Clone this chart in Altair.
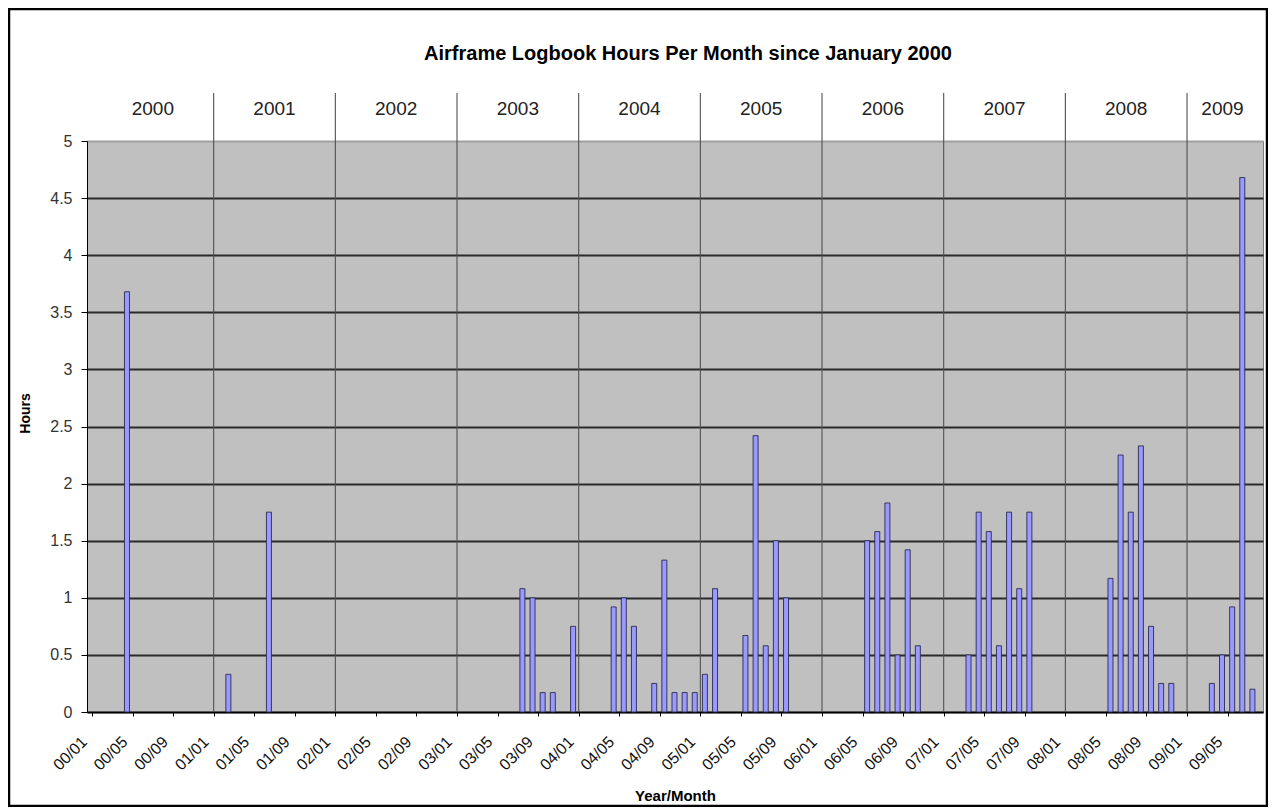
import json
import altair as alt
import pandas as pd

# ---------------- data ----------------
years = ["2000", "2001", "2002", "2003", "2004", "2005", "2006", "2007", "2008", "2009"]
last_month = "09/07"
all_months = [f"{y[2:]}/{m:02d}" for y in years for m in range(1, 13)]
month_labels = all_months[: all_months.index(last_month) + 1]

tick_labels = ["00/01", "00/05", "00/09", "01/01", "01/05", "01/09", "02/01", "02/05",
               "02/09", "03/01", "03/05", "03/09", "04/01", "04/05", "04/09", "05/01",
               "05/05", "05/09", "06/01", "06/05", "06/09", "07/01", "07/05", "07/09",
               "08/01", "08/05", "08/09", "09/01", "09/05"]

flight_months = ["00/04", "01/02", "01/06",
                 "03/07", "03/08", "03/09", "03/10", "03/12",
                 "04/04", "04/05", "04/06", "04/08", "04/09", "04/10", "04/11", "04/12",
                 "05/01", "05/02", "05/05", "05/06", "05/07", "05/08", "05/09",
                 "06/05", "06/06", "06/07", "06/08", "06/09", "06/10",
                 "07/03", "07/04", "07/05", "07/06", "07/07", "07/08", "07/09",
                 "08/05", "08/06", "08/07", "08/08", "08/09", "08/10", "08/11",
                 "09/03", "09/04", "09/05", "09/06", "09/07"]
hours = [3.68, 0.33, 1.75,
         1.08, 1.0, 0.17, 0.17, 0.75,
         0.92, 1.0, 0.75, 0.25, 1.33, 0.17, 0.17, 0.17,
         0.33, 1.08, 0.67, 2.42, 0.58, 1.5, 1.0,
         1.5, 1.58, 1.83, 0.5, 1.42, 0.58,
         0.5, 1.75, 1.58, 0.58, 1.75, 1.08, 1.75,
         1.17, 2.25, 1.75, 2.33, 0.75, 0.25, 0.25,
         0.25, 0.5, 0.92, 4.68, 0.2]

title_text = "Airframe Logbook Hours Per Month since January 2000"

# ---------------- tables ----------------
N = len(month_labels)
bars_df = pd.DataFrame({
    "month": flight_months,
    "x": [month_labels.index(m) + 0.45 for m in flight_months],
    "y": hours,
})
year_start = [month_labels.index(y[2:] + "/01") for y in years]
rules_df = pd.DataFrame({"x": year_start[1:]})
ylab_df = pd.DataFrame({
    "year": years,
    "x": [s + min(12, N - s) / 2 for s in year_start],
})
title_df = pd.DataFrame({"t": [title_text]})

W, H = 1176, 571
FONT = "Liberation Sans"

x_scale = alt.Scale(domain=[0, N], nice=False, zero=False)
y_scale = alt.Scale(domain=[0, 5], nice=False, zero=True)

label_expr = ("(datum.value % 4 == 0 && datum.value < {n}) ? {arr}[datum.value / 4] : ''"
              .format(n=N, arr=json.dumps(tick_labels)))

x_axis = alt.Axis(
    values=list(range(0, N + 1)),
    tickSize=4, tickColor="black", tickWidth=1,
    domainColor="black", domainWidth=1.5,
    labelExpr=label_expr, labelAngle=-45, labelAlign="right", labelBaseline="middle",
    labelOffset=-8, labelPadding=23, labelFontSize=16, labelColor="#111111",
    labelOverlap=False, labelBound=False, labelFlush=False,
    grid=False,
    title="Year/Month", titleFontSize=15, titleFontWeight="bold", titleColor="black",
    titleX=W / 2, titleY=76, titleBaseline="top",
)

y_axis = alt.Axis(
    values=[0, 0.5, 1, 1.5, 2, 2.5, 3, 3.5, 4, 4.5, 5],
    format="~g",
    tickSize=6, tickColor="black", domainColor="black", domainWidth=1,
    labelFontSize=16, labelPadding=9, labelColor="#333333",
    grid=True,
    gridColor={"condition": {"test": "datum.value >= 5", "value": "#a0a0a0"}, "value": "#2a2a2a"},
    gridWidth=2,
    title="Hours", titleFontSize=14, titleFontWeight="bold", titleColor="black",
    titleX=-55, titleY=272, titleAngle=270,
)

rules = alt.Chart(rules_df).mark_rule(color="#505050", strokeWidth=1.1).encode(
    x=alt.X("x:Q", scale=x_scale),
    y=alt.value(-48),
    y2=alt.value(H),
)

bars = alt.Chart(bars_df).mark_bar(
    width=5, fill="#9999FF", stroke="#2a2a50", strokeWidth=0.9
).encode(
    x=alt.X("x:Q", scale=x_scale, axis=x_axis),
    y=alt.Y("y:Q", scale=y_scale, axis=y_axis),
)

year_text = alt.Chart(ylab_df).mark_text(
    fontSize=19, font=FONT, color="#222222", align="center", baseline="middle"
).encode(
    x=alt.X("x:Q", scale=x_scale),
    y=alt.value(-32),
    text="year:N",
)

title = alt.Chart(title_df).mark_text(
    fontSize=20, font=FONT, fontWeight="bold", color="black", align="center", baseline="middle"
).encode(
    x=alt.value(601),
    y=alt.value(-87),
    text="t:N",
)

frame = alt.Chart(title_df).mark_rect(
    fillOpacity=0, stroke="black", strokeWidth=2.5
).encode(
    x=alt.value(-78), x2=alt.value(1180),
    y=alt.value(-132), y2=alt.value(665),
)

chart = alt.layer(rules, bars, year_text, title, frame).properties(
    width=W, height=H,
    padding={"left": 79, "top": 133, "right": 5, "bottom": 95},
    autosize=alt.AutoSizeParams(type="none"),
).configure(
    font=FONT,
).configure_view(
    fill="#C0C0C0", stroke="#808080", strokeWidth=1,
)

chart.save("out.html", embed_options={"renderer": "svg", "actions": False})
